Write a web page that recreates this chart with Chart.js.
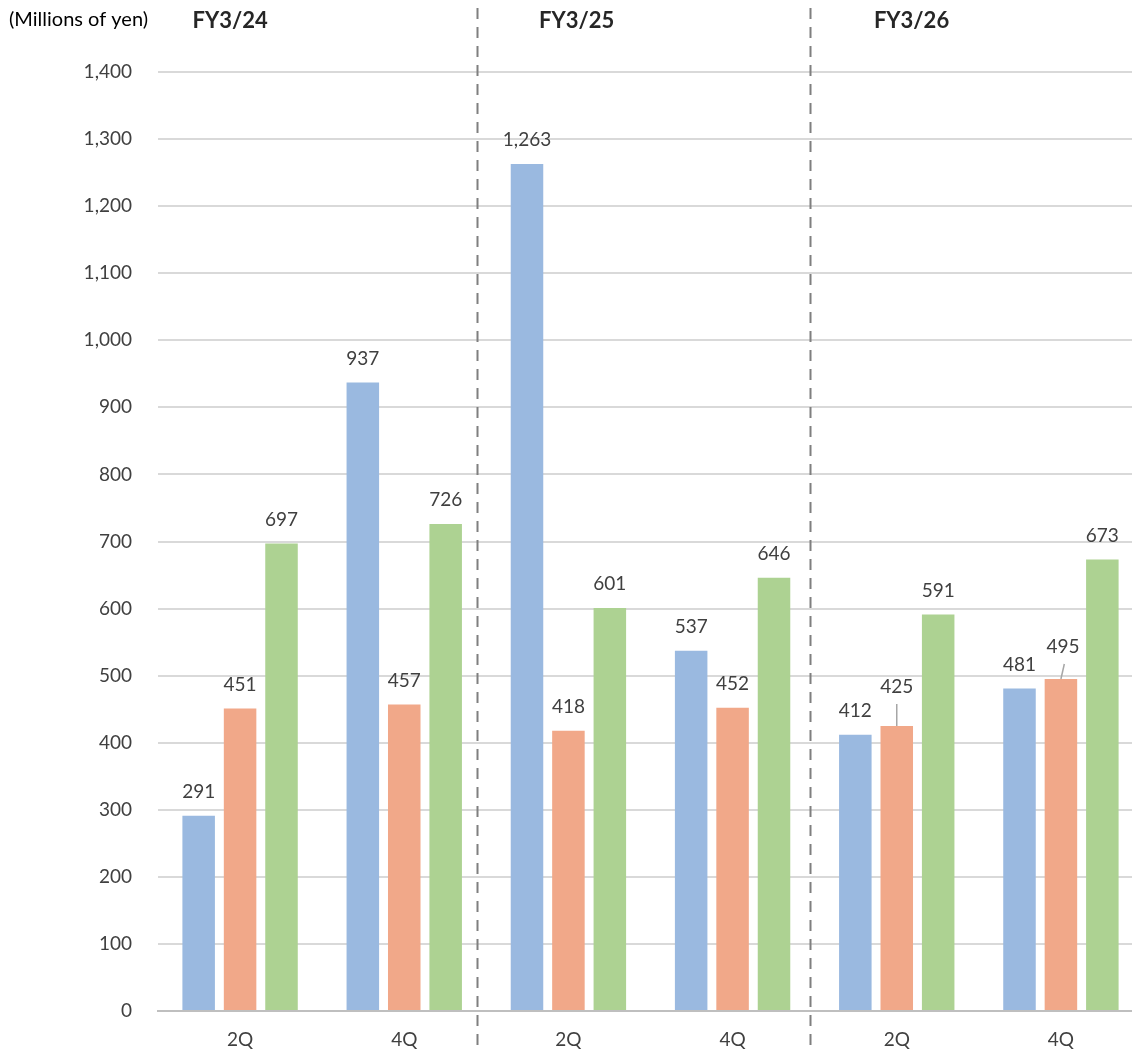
<!DOCTYPE html>
<html>
<head>
<meta charset="utf-8">
<script src="https://cdn.jsdelivr.net/npm/chart.js@4/dist/chart.umd.min.js"></script>
<style>
  html, body { margin: 0; padding: 0; background: #fff; overflow: hidden; }
  #wrap { position: relative; width: 1143px; height: 1051px; }
</style>
</head>
<body>
<div id="wrap"><canvas id="chart"></canvas></div>
<script>
// --- data ---
const quarters = ['2Q', '4Q', '2Q', '4Q', '2Q', '4Q'];
const fiscalYears = ['FY3/24', 'FY3/25', 'FY3/26'];
const seriesBlue = [291, 937, 1263, 537, 412, 481];
const seriesOrange = [451, 457, 418, 452, 425, 495];
const seriesGreen = [697, 726, 601, 646, 591, 673];
const yTicks = [0, 100, 200, 300, 400, 500, 600, 700, 800, 900, 1000, 1100, 1200, 1300, 1400];

// where the year headings and separators sit, in category units
const yearLabelAt = [-0.06, 2.05, 4.09];
const separatorAt = [1.443, 3.47];

// labels nudged up with a leader line (orange series only)
const orangeLabelDy = [0, 0, 0, 0, -15, -8];
const orangeLabelDx = [0, 0, 0, 0, 0, 2];

const FONT = 'Lato, "Noto Sans", sans-serif';
const TEXT = '#404040';

const fmt = v => v.toLocaleString('en-US');

const overlay = {
  id: 'overlay',
  afterDatasetsDraw(chart) {
    const { ctx } = chart;
    ctx.save();
    ctx.font = '19px ' + FONT;
    ctx.fillStyle = TEXT;
    ctx.textAlign = 'center';
    ctx.textBaseline = 'middle';
    chart.data.datasets.forEach((ds, di) => {
      const meta = chart.getDatasetMeta(di);
      meta.data.forEach((bar, i) => {
        const dy = ds.labelDy ? ds.labelDy[i] : 0;
        const dx = ds.labelDx ? ds.labelDx[i] : 0;
        const lx = bar.x + dx;
        const ly = bar.y - 24 + dy;
        ctx.fillText(fmt(ds.data[i]), lx, ly);
        if (dy) {
          ctx.strokeStyle = '#a6a6a6';
          ctx.lineWidth = 1.5;
          ctx.beginPath();
          ctx.moveTo(lx + dx * 0.7, ly + 17);
          ctx.lineTo(bar.x, bar.y);
          ctx.stroke();
        }
      });
    });
    ctx.restore();
  },
  afterDraw(chart) {
    const { ctx, scales: { x } } = chart;
    ctx.save();
    // year separators
    ctx.strokeStyle = '#7f7f7f';
    ctx.lineWidth = 2;
    ctx.setLineDash([11, 8]);
    separatorAt.forEach(v => {
      const px = Math.round(x.getPixelForValue(v)) + 0.5;
      ctx.beginPath();
      ctx.moveTo(px, 8);
      ctx.lineTo(px, chart.height);
      ctx.stroke();
    });
    ctx.setLineDash([]);
    // unit caption
    ctx.fillStyle = '#000';
    ctx.textBaseline = 'middle';
    ctx.textAlign = 'left';
    ctx.font = '20px ' + FONT;
    ctx.fillText('(Millions of yen)', 9, 20);
    // fiscal year headings
    ctx.fillStyle = '#262626';
    ctx.font = 'bold 22px ' + FONT;
    ctx.textAlign = 'center';
    fiscalYears.forEach((t, i) => {
      ctx.fillText(t, x.getPixelForValue(yearLabelAt[i]), 21);
    });
    ctx.restore();
  }
};

new Chart(document.getElementById('chart'), {
  type: 'bar',
  data: {
    labels: quarters,
    datasets: [
      { data: seriesBlue, backgroundColor: '#9ab9e0' },
      { data: seriesOrange, backgroundColor: '#f1a889', labelDy: orangeLabelDy, labelDx: orangeLabelDx },
      { data: seriesGreen, backgroundColor: '#add292' }
    ]
  },
  options: {
    responsive: true,
    maintainAspectRatio: false,
    animation: false,
    layout: { padding: { top: 72, right: 0, bottom: 0, left: 0 } },
    datasets: { bar: { categoryPercentage: 0.757, barPercentage: 0.785 } },
    plugins: { legend: { display: false }, tooltip: { enabled: false } },
    scales: {
      x: {
        grid: { display: false, drawTicks: false },
        border: { display: true, color: '#bfbfbf', width: 2 },
        ticks: { color: TEXT, font: { family: FONT, size: 19 }, padding: 17 },
        afterFit: s => { s.height = 40; }
      },
      y: {
        min: 0,
        max: 1400,
        afterBuildTicks: s => { s.ticks = yTicks.map(v => ({ value: v })); },
        grid: { color: ctx => ctx.tick.value === 0 ? 'rgba(0,0,0,0)' : '#d9d9d9', lineWidth: 2, drawTicks: false },
        border: { display: false },
        ticks: { color: TEXT, font: { family: FONT, size: 19 }, padding: 26, callback: v => fmt(v) },
        afterFit: s => { s.width = 158; }
      }
    }
  },
  plugins: [overlay]
});
</script>
</body>
</html>
